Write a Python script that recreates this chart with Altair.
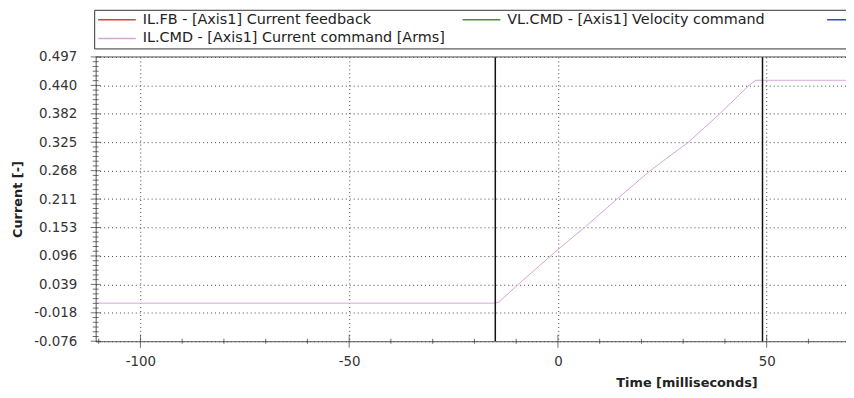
import altair as alt
import pandas as pd

# ---- data ----
# the third legend entry is cut off at the right edge in the reference; only its line shows
series_names = [
    "IL.FB - [Axis1] Current feedback",
    "VL.CMD - [Axis1] Velocity command",
    " ",
    "IL.CMD - [Axis1] Current command [Arms]",
]
series_colors = ["#e03c3c", "#3a963a", "#3848c0", "#d6a6d8"]

time_ms = [-110.72, -15.0, -14.0, -9.5, 0.0, 6.3, 14.2, 22.1, 31.2, 38.7, 45.8, 47.4, 69.0]
il_cmd = [0.001, 0.001, 0.004, 0.039, 0.109, 0.153, 0.211, 0.268, 0.325, 0.382, 0.440, 0.450, 0.450]

cursor_ms = [-15.0, 49.0]

x_domain = [-110.72, 69.0]
y_domain = [-0.0757, 0.4970]

x_major = [-100, -50, 0, 50]
x_minor = [-110, -90, -80, -70, -60, -40, -30, -20, -10, 10, 20, 30, 40, 60]
y_major = [-0.0757, -0.0184, 0.0388, 0.0961, 0.1534, 0.2107, 0.2679, 0.3252, 0.3824, 0.4397, 0.4970]
y_minor = [
    y_major[i] + (y_major[i + 1] - y_major[i]) * k / 6
    for i in range(len(y_major) - 1)
    for k in range(1, 6)
]

xs = alt.Scale(domain=x_domain, nice=False, zero=False)
ys = alt.Scale(domain=y_domain, nice=False, zero=False)

hyphen_minus = "replace(datum.label, '\u2212', '-')"

x_axis = alt.Axis(
    values=x_major,
    format="d",
    labelExpr=hyphen_minus,
    grid=True,
    title="Time [milliseconds]",
    titleX=596.5,
    titleY=42,
    titleAlign="center",
    titleBaseline="middle",
    labelPadding=13,
)
y_axis = alt.Axis(
    values=y_major,
    format=".3f",
    labelExpr=hyphen_minus,
    grid=True,
    title="Current [-]",
    titleX=-78.5,
    titleBaseline="middle",
    labelPadding=19,
)

line_df = pd.DataFrame({"t": time_ms, "v": il_cmd, "s": series_names[3]})

line = alt.Chart(line_df).mark_line(strokeWidth=1, clip=True).encode(
    x=alt.X("t:Q", scale=xs, axis=x_axis),
    y=alt.Y("v:Q", scale=ys, axis=y_axis),
    color=alt.Color(
        "s:N",
        scale=alt.Scale(domain=series_names, range=series_colors),
        legend=alt.Legend(
            title=None,
            orient="none",
            legendX=-1.5,
            legendY=-47.6,
            direction="horizontal",
            columns=3,
            gridAlign="all",
            symbolType="stroke",
            symbolSize=1444,
            symbolStrokeWidth=1.5,
            clipHeight=14,
            labelFont="DejaVu Sans",
            labelFontSize=14.5,
            labelColor="#222",
            labelOffset=6,
            labelLimit=400,
            padding=3,
            rowPadding=4,
            columnPadding=16,
            strokeColor="#333",
            fillColor="white",
        ),
    ),
)

cursors = alt.Chart(pd.DataFrame({"t": cursor_ms})).mark_rule(
    color="#111", strokeWidth=1.5
).encode(x=alt.X("t:Q", scale=xs, axis=x_axis))

top_border = alt.Chart(pd.DataFrame({"v": [y_domain[1]]})).mark_rule(
    color="#555", strokeWidth=1
).encode(y=alt.Y("v:Q", scale=ys, axis=y_axis))

x_major_ticks = alt.Chart(pd.DataFrame({"t": x_major})).mark_tick(
    orient="vertical", size=13, thickness=1, color="#333"
).encode(
    x=alt.X("t:Q", scale=xs, axis=x_axis),
    y=alt.YDatum(y_domain[0], type="quantitative", scale=ys, axis=y_axis),
)
x_minor_ticks = alt.Chart(pd.DataFrame({"t": x_minor})).mark_tick(
    orient="vertical", size=5, thickness=1, color="#333"
).encode(
    x=alt.X("t:Q", scale=xs, axis=x_axis),
    y=alt.YDatum(y_domain[0], type="quantitative", scale=ys, axis=y_axis),
)
y_major_ticks = alt.Chart(pd.DataFrame({"v": y_major})).mark_tick(
    orient="horizontal", size=10, thickness=1, color="#333"
).encode(
    y=alt.Y("v:Q", scale=ys, axis=y_axis),
    x=alt.XDatum(x_domain[0], type="quantitative", scale=xs, axis=x_axis),
)
y_minor_ticks = alt.Chart(pd.DataFrame({"v": y_minor})).mark_tick(
    orient="horizontal", size=6, thickness=1, color="#333"
).encode(
    y=alt.Y("v:Q", scale=ys, axis=y_axis),
    x=alt.XDatum(x_domain[0], type="quantitative", scale=xs, axis=x_axis),
)

chart = (
    alt.layer(line, cursors, top_border, x_major_ticks, x_minor_ticks, y_major_ticks, y_minor_ticks)
    .properties(
        width=757.5,
        height=287,
        padding={"left": 88.5, "top": 47.6, "right": 0, "bottom": 47},
        autosize=alt.AutoSizeParams(type="none"),
        background="white",
    )
    .configure_view(stroke=None)
    .configure_axis(
        labelFont="DejaVu Sans",
        labelFontSize=13.5,
        labelColor="#333",
        titleFont="DejaVu Sans",
        titleFontSize=13,
        titleFontWeight="bold",
        titleColor="#222",
        domainColor="#555",
        ticks=False,
        gridColor="#444",
        gridDash=[1, 3],
        gridWidth=1,
        labelOverlap=False,
    )
)

chart.save("out.html", embed_options={"renderer": "svg", "actions": False})
